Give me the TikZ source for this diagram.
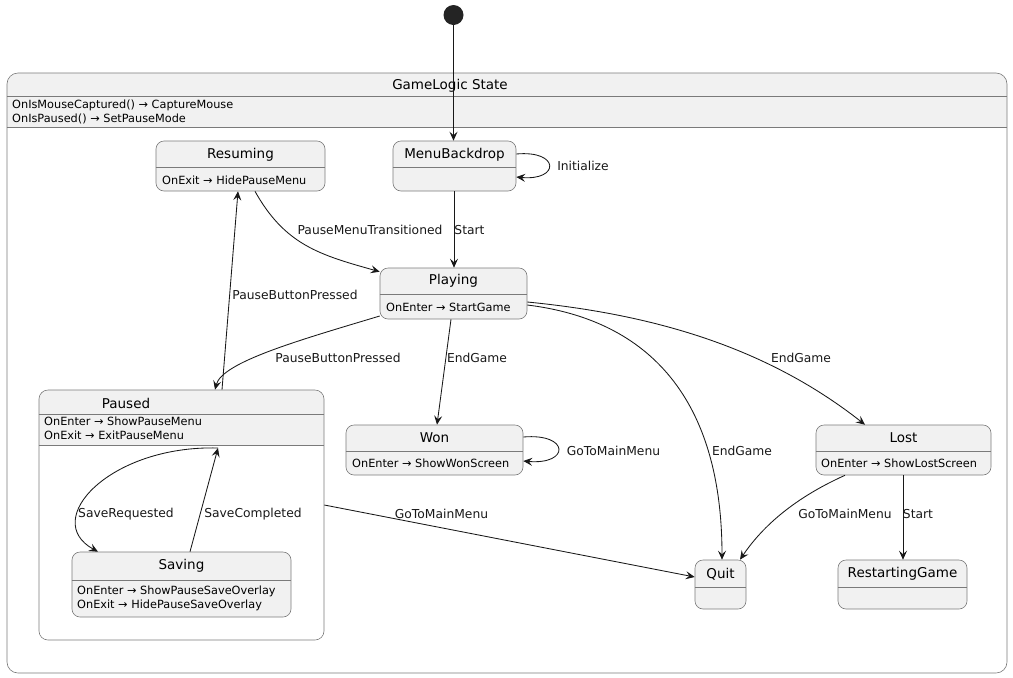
\documentclass[tikz,border=0pt]{standalone}
\usepackage{fontspec}
\setmainfont{DejaVu Sans}
\usepackage{tikz}
\usetikzlibrary{arrows.meta, positioning, calc}

\definecolor{stategray}{HTML}{F1F1F1}
\definecolor{edgecol}{HTML}{181818}
\definecolor{framecol}{HTML}{7A7A7A}

\tikzset{
    state/.style={draw=framecol, fill=stategray, rounded corners=8pt, line width=0.6pt, inner sep=0pt},
    group/.style={draw=framecol, rounded corners=11pt, line width=0.6pt, inner sep=0pt},
    title/.style={font=\fontsize{13.5}{16}\selectfont, inner sep=0pt},
    act/.style={font=\fontsize{11.3}{14}\selectfont, align=left, anchor=west, inner sep=0pt},
    lbl/.style={font=\fontsize{12.3}{15}\selectfont, inner sep=0pt, text=edgecol},
    sep/.style={draw=framecol, line width=0.6pt},
    trans/.style={draw=edgecol, line width=0.85pt, -{Stealth[length=9pt, width=8pt, inset=3.5pt]}},
}

\begin{document}
\begin{tikzpicture}[x=1pt, y=-1pt]
    \useasboundingbox (0,0) rectangle (1013,678);

    % Outer state - GameLogic
    \fill[stategray] (7,127) {[rounded corners=11pt] -- (7,73) -- (1007,73)} -- (1007,127) -- cycle;
    \node[group, minimum width=1000pt, minimum height=600pt] (gamelogic) at (507,373) {};
    \draw[sep] (gamelogic.west |- 0,96) -- (gamelogic.east |- 0,96);
    \draw[sep] (gamelogic.west |- 0,127) -- (gamelogic.east |- 0,127);
    \node[title] (gamelogicT) at (450,86) {GameLogic State};
    \node[act] (gamelogicA) at (12,112) {OnIsMouseCaptured() → CaptureMouse\\OnIsPaused() → SetPauseMode};

    % Initial point
    \node[circle, fill=edgecol!95!white, minimum size=20pt, inner sep=0pt] (init) at (453.5,15) {};

    % Top row
    \node[state, minimum width=169pt, minimum height=50pt] (resuming) at (240.5,166) {};
    \draw[sep] (resuming.west |- 0,167) -- (resuming.east |- 0,167);
    \node[title] (resumingT) at (240.5,155) {Resuming};
    \node[act] (resumingA) at (162,180) {OnExit → HidePauseMenu};

    \node[state, minimum width=123pt, minimum height=50pt] (menu) at (454.5,166) {};
    \draw[sep] (menu.west |- 0,167) -- (menu.east |- 0,167);
    \node[title] (menuT) at (454.5,155) {MenuBackdrop};

    % Playing
    \node[state, minimum width=147pt, minimum height=51pt] (playing) at (453.5,293.5) {};
    \draw[sep] (playing.west |- 0,294) -- (playing.east |- 0,294);
    \node[title] (playingT) at (453.5,281) {Playing};
    \node[act] (playingA) at (386,307) {OnEnter → StartGame};

    % Paused with its inner state
    \fill[stategray] (39,445) {[rounded corners=9pt] -- (39,390) -- (324,390)} -- (324,445) -- cycle;
    \node[group, rounded corners=9pt, minimum width=285pt, minimum height=250pt] (paused) at (181.5,515) {};
    \draw[sep] (paused.west |- 0,414) -- (paused.east |- 0,414);
    \draw[sep] (paused.west |- 0,445) -- (paused.east |- 0,445);
    \node[title] (pausedT) at (126,403) {Paused};
    \node[act] (pausedA) at (44,428) {OnEnter → ShowPauseMenu\\OnExit → ExitPauseMenu};
    \coordinate (pausedin) at (218,448);

    \node[state, minimum width=219pt, minimum height=65pt] (saving) at (181.5,584.5) {};
    \draw[sep] (saving.west |- 0,580) -- (saving.east |- 0,580);
    \node[title] (savingT) at (181.5,566) {Saving};
    \node[act] (savingA) at (77,598) {OnEnter → ShowPauseSaveOverlay\\OnExit → HidePauseSaveOverlay};

    % End states
    \node[state, minimum width=177pt, minimum height=50pt] (won) at (434.5,450) {};
    \draw[sep] (won.west |- 0,451) -- (won.east |- 0,451);
    \node[title] (wonT) at (434.5,438) {Won};
    \node[act] (wonA) at (352,463) {OnEnter → ShowWonScreen};

    \node[state, minimum width=175pt, minimum height=50pt] (lost) at (903.5,450) {};
    \draw[sep] (lost.west |- 0,451) -- (lost.east |- 0,451);
    \node[title] (lostT) at (903.5,438) {Lost};
    \node[act] (lostA) at (821,463) {OnEnter → ShowLostScreen};

    \node[state, minimum width=51pt, minimum height=49pt] (quit) at (720.5,584.5) {};
    \draw[sep] (quit.west |- 0,587) -- (quit.east |- 0,587);
    \node[title] (quitT) at (720.5,574) {Quit};

    \node[state, minimum width=129pt, minimum height=49pt] (restart) at (902.5,584.5) {};
    \draw[sep] (restart.west |- 0,587) -- (restart.east |- 0,587);
    \node[title] (restartT) at (902.5,574) {RestartingGame};

    % Transitions
    \draw[trans] (init.south) -- (init.south |- menu.north);
    \draw[trans] ([yshift=12pt]menu.east) .. controls (560,150) and (560,181) .. ([yshift=-11pt]menu.east);
    \node[lbl] (initlbl) at (583,166) {Initialize};
    \draw[trans] ([xshift=-0.5pt]menu.south) -- ([xshift=-0.5pt]menu.south |- playing.north);
    \node[lbl] (startlbl) at (469.5,230) {Start};

    \draw[trans] ([xshift=14.5pt]resuming.south) .. controls (285,245) and (320,255) .. ([yshift=-4pt]playing.north west);
    \node[lbl] (transitionedlbl) at (370,230) {PauseMenuTransitioned};
    \draw[trans] ([xshift=40.5pt]paused.north) -- ([xshift=-2.5pt]resuming.south);
    \node[lbl] (pressedlbl) at (295,295) {PauseButtonPressed};
    \draw[trans] ([yshift=-22.5pt]playing.west) .. controls (300,340) and (222,362) .. ([xshift=33.5pt]paused.north);
    \node[lbl] (pressedlblb) at (338,358) {PauseButtonPressed};

    \draw[trans] ([xshift=-2.5pt]playing.south) -- ([xshift=2.5pt]won.north);
    \node[lbl] (endwonlbl) at (477,358) {EndGame};
    \draw[trans] ([yshift=-11.5pt]playing.east) .. controls (650,320) and (722,400) .. ([xshift=1.5pt]quit.north);
    \node[lbl] (endquitlbl) at (742,451) {EndGame};
    \draw[trans] ([yshift=-8.5pt]playing.east) .. controls (660,315) and (770,350) .. ([xshift=-38.5pt]lost.north);
    \node[lbl] (endlostlbl) at (801,358) {EndGame};

    \draw[trans] ([yshift=13pt]won.east) .. controls (570,433) and (570,465) .. ([yshift=-11pt]won.east);
    \node[lbl] (wonmenulbl) at (613.5,451) {GoToMainMenu};
    \draw[trans] ([xshift=-58.5pt]lost.south) .. controls (790,500) and (760,530) .. ([xshift=19.5pt]quit.north);
    \node[lbl] (lostmenulbl) at (845,514) {GoToMainMenu};
    \draw[trans] ([xshift=-0.5pt]lost.south) -- ([xshift=-0.5pt]lost.south |- restart.north);
    \node[lbl] (restartlbl) at (918,514) {Start};
    \draw[trans] ([yshift=10pt]paused.east) -- ([yshift=7.5pt]quit.west);
    \node[lbl] (pausedmenulbl) at (441.5,514) {GoToMainMenu};

    % Saving loop inside Paused
    \draw[trans] (pausedin) .. controls (110,445) and (40,520) .. ([xshift=-83.5pt]saving.north);
    \node[lbl] (requestlbl) at (126,514) {SaveRequested};
    \draw[trans] ([xshift=8.5pt]saving.north) -- (pausedin);
    \node[lbl] (completelbl) at (253,514) {SaveCompleted};
\end{tikzpicture}
\end{document}
